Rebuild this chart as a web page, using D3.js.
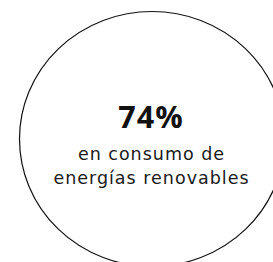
<!DOCTYPE html>
<html>
<head>
<meta charset="utf-8">
<script src="https://cdn.jsdelivr.net/npm/d3@7"></script>
<style>
  body { margin: 0; background: #fff; }
</style>
</head>
<body>
<script>
// data
let values = [74];
let labelLines = ["en consumo de", "energías renovables"];

let width = 273, height = 262;

let svg = d3.select('body')
      .append('svg')
      .attr('width', width)
      .attr('height', height);

// the ring round the figure
svg.append('ellipse')
  .attr('cx', 152)
  .attr('cy', 139)
  .attr('rx', 132.5)
  .attr('ry', 127.5)
  .style('fill', 'none')
  .style('stroke', '#111')
  .style('stroke-width', 1.2);

let fmt = d => d3.format('d')(d) + '%';

svg.selectAll('text.big')
  .data(values)
  .enter()
  .append('text')
  .classed('big', true)
  .attr('x', 151)
  .attr('y', 127.5)
  .attr('text-anchor', 'middle')
  .style('font-family', '"Open Sans", sans-serif')
  .style('font-weight', 700)
  .style('font-size', '30.5px')
  .style('letter-spacing', '1px')
  .style('fill', '#111')
  .text(fmt);

svg.selectAll('text.label')
  .data(labelLines)
  .enter()
  .append('text')
  .classed('label', true)
  .attr('x', 151.5)
  .attr('y', (d, i) => 160 + i * 23.5)
  .attr('text-anchor', 'middle')
  .style('font-family', '"DejaVu Sans", sans-serif')
  .style('font-size', '17.5px')
  .style('letter-spacing', '1px')
  .style('fill', '#1a1a1a')
  .text(d => d);
</script>
</body>
</html>
